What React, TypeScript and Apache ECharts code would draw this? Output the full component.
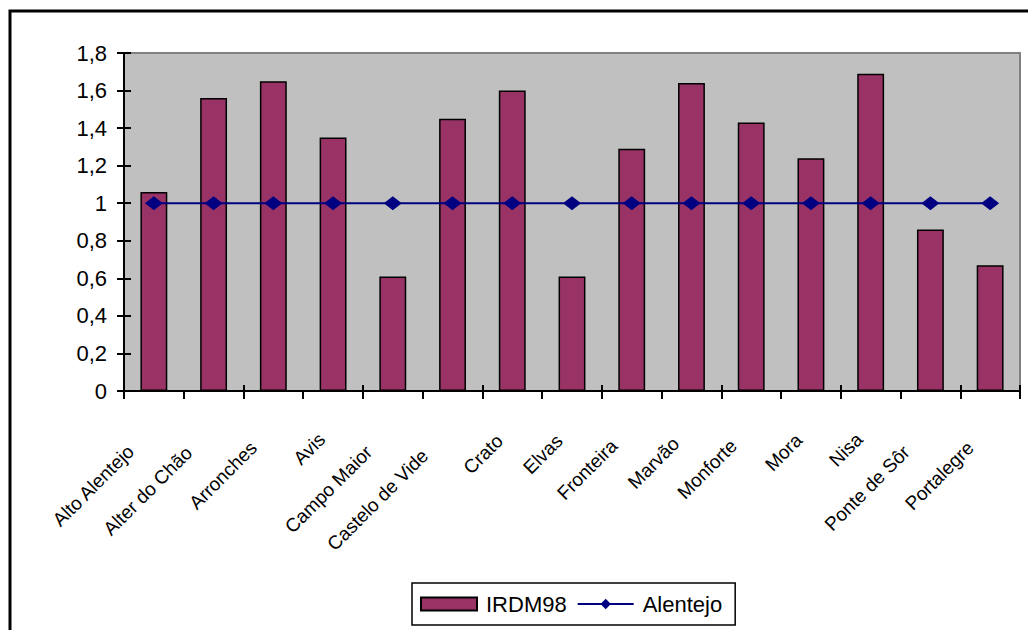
import React, { useEffect, useRef } from "react";
import * as echarts from "echarts";

const categories = [
  "Alto Alentejo",
  "Alter do Chão",
  "Arronches",
  "Avis",
  "Campo Maior",
  "Castelo de Vide",
  "Crato",
  "Elvas",
  "Fronteira",
  "Marvão",
  "Monforte",
  "Mora",
  "Nisa",
  "Ponte de Sôr",
  "Portalegre",
];
const irdm98 = [1.06, 1.56, 1.65, 1.35, 0.61, 1.45, 1.6, 0.61, 1.29, 1.64, 1.43, 1.24, 1.69, 0.86, 0.67];
const alentejo = [1, 1, 1, 1, 1, 1, 1, 1, 1, 1, 1, 1, 1, 1, 1];
const yMin = 0;
const yMax = 1.8;
const yStep = 0.2;

const FONT = "'Liberation Sans', Arial, sans-serif";
const XLABEL_SIZE = 19;

const fmt = (v: number) => String(Math.round(v * 10) / 10).replace(".", ",");

function measure(text: string): number {
  const c = document.createElement("canvas").getContext("2d");
  if (!c) return text.length * 9.5;
  c.font = `${XLABEL_SIZE}px 'Liberation Sans', Arial, sans-serif`;
  return c.measureText(text).width;
}

export default function App() {
  const ref = useRef<HTMLDivElement>(null);
  useEffect(() => {
    if (!ref.current) return;
    const rich: Record<string, any> = {};
    categories.forEach((name, i) => {
      const w = measure(name);
      rich["l" + i] = {
        fontFamily: FONT,
        fontSize: XLABEL_SIZE,
        color: "#000",
        padding: [0, Math.round(7 + 0.24 * w), 0, 0],
      };
    });
    const chart = echarts.init(ref.current, null, { renderer: "svg" });
    chart.setOption({
      animation: false,
      backgroundColor: "#ffffff",
      graphic: [
        {
          type: "rect",
          shape: { x: 10, y: 11, width: 1040, height: 650 },
          style: { fill: "none", stroke: "#000", lineWidth: 3 },
          z: 100,
        },
      ],
      grid: {
        left: 124,
        top: 53,
        right: 8,
        bottom: 239,
        show: true,
        backgroundColor: "#C0C0C0",
        borderColor: "#808080",
        borderWidth: 2,
      },
      legend: {
        left: 412,
        top: 583,
        orient: "horizontal",
        padding: [10, 13, 10, 8],
        itemGap: 10,
        itemWidth: 56,
        itemHeight: 13,
        borderColor: "#000",
        borderWidth: 1.5,
        textStyle: { fontFamily: FONT, fontSize: 22, color: "#000", padding: [0, 0, 0, 4] },
        data: [
          { name: "IRDM98", icon: "rect" },
          { name: "Alentejo" },
        ],
      },
      xAxis: [
        {
          type: "category",
          data: categories,
          position: "bottom",
          axisLine: { show: true, lineStyle: { color: "#000", width: 2 } },
          axisTick: { show: true, length: 8, lineStyle: { color: "#000", width: 2 } },
          axisLabel: {
            interval: 0,
            rotate: 45,
            margin: 34,
            fontFamily: FONT,
            fontSize: XLABEL_SIZE,
            color: "#000",
            formatter: (value: string, index: number) => `{l${index}|${value}}`,
            rich,
          },
          splitLine: { show: false },
        },
        {
          type: "category",
          data: categories,
          position: "bottom",
          axisLine: { show: false },
          axisTick: { show: true, inside: true, length: 6, lineStyle: { color: "#000", width: 2 } },
          axisLabel: { show: false },
          splitLine: { show: false },
        },
      ],
      yAxis: [
        {
          type: "value",
          min: yMin,
          max: yMax,
          interval: yStep,
          position: "left",
          axisLine: { show: true, lineStyle: { color: "#000", width: 2 } },
          axisTick: { show: true, length: 7, lineStyle: { color: "#000", width: 2 } },
          axisLabel: {
            margin: 17,
            fontFamily: FONT,
            fontSize: 22,
            color: "#000",
            formatter: fmt,
          },
          splitLine: { show: false },
        },
        {
          type: "value",
          min: yMin,
          max: yMax,
          interval: yStep,
          position: "left",
          axisLine: { show: false },
          axisTick: { show: true, inside: true, length: 7, lineStyle: { color: "#000", width: 2 } },
          axisLabel: { show: false },
          splitLine: { show: false },
        },
      ],
      series: [
        {
          name: "IRDM98",
          type: "bar",
          data: irdm98,
          barWidth: "45%",
          itemStyle: { color: "#993366", borderColor: "#000", borderWidth: 1.5 },
        },
        {
          name: "Alentejo",
          type: "line",
          data: alentejo,
          symbol: "diamond",
          symbolSize: [18, 14],
          lineStyle: { color: "#000080", width: 2 },
          itemStyle: { color: "#000080" },
          z: 3,
        },
      ],
    });
    return () => chart.dispose();
  }, []);
  return (
    <div
      ref={ref}
      style={{ position: "absolute", left: 0, top: 0, width: 1028, height: 630 }}
    />
  );
}
